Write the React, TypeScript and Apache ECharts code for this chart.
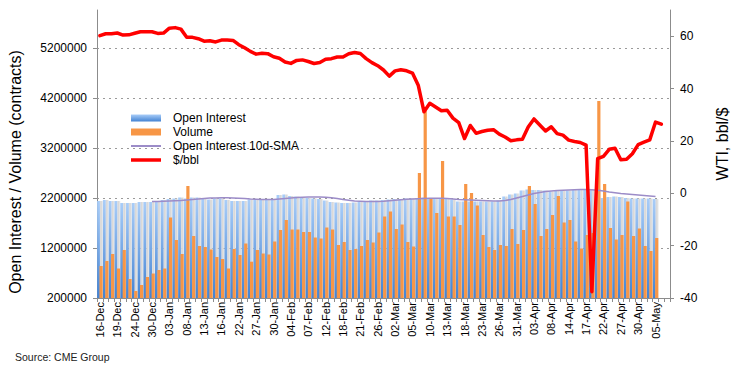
import { useEffect, useRef } from 'react';
import * as echarts from 'echarts';

const CATEGORIES = [
  '16-Dec','17-Dec','18-Dec','19-Dec','20-Dec','23-Dec','24-Dec','26-Dec','27-Dec','30-Dec','31-Dec',
  '02-Jan','03-Jan','06-Jan','07-Jan','08-Jan','09-Jan','10-Jan','13-Jan','14-Jan','15-Jan','16-Jan','17-Jan','21-Jan','22-Jan','23-Jan','24-Jan','27-Jan','28-Jan','29-Jan','30-Jan','31-Jan',
  '03-Feb','04-Feb','05-Feb','06-Feb','07-Feb','10-Feb','11-Feb','12-Feb','13-Feb','14-Feb','18-Feb','19-Feb','20-Feb','21-Feb','24-Feb','25-Feb','26-Feb','27-Feb','28-Feb',
  '02-Mar','03-Mar','04-Mar','05-Mar','06-Mar','09-Mar','10-Mar','11-Mar','12-Mar','13-Mar','16-Mar','17-Mar','18-Mar','19-Mar','20-Mar','23-Mar','24-Mar','25-Mar','26-Mar','27-Mar','30-Mar','31-Mar',
  '01-Apr','02-Apr','03-Apr','06-Apr','07-Apr','08-Apr','09-Apr','13-Apr','14-Apr','15-Apr','16-Apr','17-Apr','20-Apr','21-Apr','22-Apr','23-Apr','24-Apr','27-Apr','28-Apr','29-Apr','30-Apr',
  '01-May','04-May','05-May','06-May','07-May',
];

const OPEN_INTEREST = [
  2140000, 2160000, 2140000, 2140000, 2100000, 2100000, 2100000, 2120000, 2120000, 2120000,
  2140000, 2160000, 2180000, 2190000, 2210000, 2190000, 2210000, 2210000, 2190000, 2170000,
  2190000, 2190000, 2160000, 2140000, 2140000, 2140000, 2170000, 2170000, 2160000, 2160000,
  2170000, 2260000, 2270000, 2240000, 2230000, 2210000, 2200000, 2190000, 2180000, 2150000,
  2120000, 2110000, 2100000, 2100000, 2110000, 2130000, 2140000, 2150000, 2150000, 2160000,
  2170000, 2180000, 2180000, 2190000, 2190000, 2200000, 2210000, 2200000, 2190000, 2190000,
  2190000, 2170000, 2130000, 2130000, 2130000, 2130000, 2130000, 2130000, 2130000, 2150000,
  2230000, 2270000, 2290000, 2350000, 2370000, 2360000, 2360000, 2350000, 2330000, 2340000,
  2340000, 2350000, 2360000, 2360000, 2370000, 2370000, 2380000, 2200000, 2220000, 2230000,
  2220000, 2200000, 2190000, 2190000, 2190000, 2190000, 2180000,
];

const VOLUME = [
  840000, 940000, 1080000, 790000, 1160000, 580000, 340000, 460000, 620000, 690000,
  760000, 790000, 1810000, 1360000, 1080000, 2440000, 1440000, 1240000, 1220000, 1170000,
  1020000, 980000, 790000, 1180000, 1060000, 1290000, 926000, 1160000, 1090000, 1070000,
  1330000, 1560000, 1760000, 1570000, 1570000, 1520000, 1520000, 1410000, 1390000, 1610000,
  1570000, 1260000, 1320000, 1160000, 1180000, 1240000, 1360000, 1310000, 1510000, 1830000,
  1930000, 1580000, 1670000, 1320000, 1230000, 2700000, 3950000, 2200000, 1900000, 2940000,
  1830000, 1830000, 1660000, 2480000, 2300000, 2050000, 1460000, 1220000, 1160000, 1260000,
  1240000, 1580000, 1280000, 1560000, 2440000, 2080000, 1440000, 1580000, 1860000, 2240000,
  1710000, 1760000, 1330000, 1190000, 1460000, 1500000, 4140000, 2480000, 1600000, 1370000,
  1460000, 2130000, 1440000, 1590000, 1240000, 1140000, 1400000,
];

const OI_SMA_10D = [
  null, null, null, null, null, null, null, null, null,
  2130000, 2130000, 2135000, 2140000, 2145000, 2150000, 2160000, 2170000, 2180000, 2190000, 2200000,
  2200000, 2205000, 2205000, 2200000, 2195000, 2190000, 2180000, 2175000, 2170000, 2170000,
  2170000, 2180000, 2190000, 2200000, 2210000, 2215000, 2220000, 2220000, 2220000, 2215000,
  2205000, 2190000, 2170000, 2155000, 2140000, 2135000, 2130000, 2130000, 2130000, 2135000,
  2145000, 2155000, 2165000, 2175000, 2180000, 2185000, 2190000, 2195000, 2195000, 2195000,
  2190000, 2180000, 2170000, 2165000, 2160000, 2155000, 2150000, 2145000, 2140000, 2140000,
  2150000, 2170000, 2200000, 2230000, 2260000, 2290000, 2310000, 2330000, 2340000, 2350000,
  2355000, 2360000, 2365000, 2370000, 2370000, 2365000, 2355000, 2340000, 2320000, 2305000,
  2290000, 2280000, 2270000, 2260000, 2250000, 2240000, 2230000,
];

const WTI_PRICE = [
  60.21, 60.94, 60.93, 61.22, 60.44, 60.52, 61.11, 61.68, 61.72, 61.68,
  61.06, 61.18, 63.05, 63.27, 62.7, 59.61, 59.56, 59.04, 58.08, 58.23,
  57.81, 58.52, 58.54, 58.38, 56.74, 55.59, 54.19, 53.14, 53.48, 53.33,
  52.14, 51.56, 50.11, 49.61, 50.75, 50.95, 50.32, 49.57, 49.94, 51.17,
  51.42, 52.05, 52.05, 53.29, 53.78, 53.38, 51.43, 49.9, 48.73, 47.09,
  44.76, 46.75, 47.18, 46.78, 45.9, 41.28, 31.13, 34.36, 32.98, 31.5,
  31.73, 28.7, 26.95, 20.9, 25.9, 22.9, 23.6, 24.1, 24.3, 22.6,
  21.5, 20.1, 20.4, 20.6, 25.3, 28.4, 26.1, 23.8, 25.4, 22.8,
  22.2, 20.3, 19.8, 19.4, 18.4, -37.63, 13.2, 14.1, 16.8, 17.2,
  12.8, 13.0, 15.1, 18.6, 19.5, 20.4, 27.2, 26.4,
];

const LEFT_GRID_TICKS = [1200000, 2200000, 3200000, 4200000, 5200000];

const FONT = '"Liberation Sans", Arial, Helvetica, sans-serif';
const AXIS_GRAY = '#8c8c8c';

export default function App() {
  const ref = useRef<HTMLDivElement>(null);

  useEffect(() => {
    if (!ref.current) return;
    const chart = echarts.init(ref.current, null, { renderer: 'svg' });

    const oiGradient = new echarts.graphic.LinearGradient(0, 0, 0, 1, [
      { offset: 0, color: '#a9cdf8' },
      { offset: 1, color: '#4383d3' },
    ]);

    chart.setOption({
      animation: false,
      backgroundColor: '#ffffff',
      textStyle: { fontFamily: FONT },
      grid: { left: 97, right: 68, top: 10, bottom: 75, outerBoundsMode: 'none' },
      legend: {
        orient: 'vertical',
        left: 131,
        top: 112,
        padding: 0,
        itemGap: 2,
        itemWidth: 30,
        itemHeight: 7,
        selectedMode: false,
        textStyle: { fontSize: 12, color: '#000', fontFamily: FONT, padding: [0, 0, 0, 7] },
        itemStyle: { borderWidth: 0 },
        data: [
          { name: 'Open Interest', icon: 'rect' },
          { name: 'Volume', icon: 'rect' },
          { name: 'Open Interest 10d-SMA', icon: 'path://M0,0H30V2H0Z' },
          { name: '$/bbl', icon: 'path://M0,0H30V3.5H0Z' },
        ],
      },
      xAxis: {
        type: 'category',
        data: CATEGORIES,
        boundaryGap: true,
        axisLine: { onZero: false, lineStyle: { color: AXIS_GRAY, width: 1 } },
        axisTick: { show: true, interval: 0, length: 4, lineStyle: { color: AXIS_GRAY } },
        axisLabel: { interval: 2, rotate: 90, fontSize: 11, color: '#000', margin: 4, fontFamily: FONT },
        splitLine: { show: false },
      },
      yAxis: [
        {
          type: 'value',
          position: 'left',
          min: 200000,
          max: 5960000,
          interval: 1000000,
          axisLine: { show: true, lineStyle: { color: AXIS_GRAY } },
          axisTick: { show: true, length: 4, lineStyle: { color: AXIS_GRAY } },
          axisLabel: {
            fontSize: 12,
            color: '#000',
            margin: 10,
            showMaxLabel: false,
            fontFamily: FONT,
            formatter: (v: number) => String(v),
          },
          splitLine: { show: false },
        },
        {
          type: 'value',
          position: 'right',
          min: -40,
          max: 70,
          interval: 20,
          axisLine: { show: true, lineStyle: { color: AXIS_GRAY } },
          axisTick: { show: true, length: 4, lineStyle: { color: AXIS_GRAY } },
          axisLabel: { fontSize: 12, color: '#000', margin: 10, showMaxLabel: false, fontFamily: FONT },
          splitLine: { show: false },
        },
      ],
      series: [
        {
          name: 'Open Interest',
          type: 'bar',
          yAxisIndex: 0,
          data: OPEN_INTEREST,
          barWidth: 2.8,
          barGap: '-15%',
          itemStyle: {
            color: oiGradient,
            shadowColor: '#d9d9d9',
            shadowOffsetX: 2.6,
            shadowBlur: 0,
          },
          markLine: {
            z: 1,
            silent: true,
            symbol: 'none',
            label: { show: false },
            lineStyle: { color: '#9a9a9a', width: 1, type: [2, 4] },
            data: LEFT_GRID_TICKS.map((v) => ({ yAxis: v })),
          },
        },
        {
          name: 'Volume',
          type: 'bar',
          yAxisIndex: 0,
          data: VOLUME,
          barWidth: 3.2,
          barGap: '-15%',
          itemStyle: { color: '#f79646' },
        },
        {
          name: 'Open Interest 10d-SMA',
          type: 'line',
          yAxisIndex: 0,
          data: OI_SMA_10D,
          symbol: 'none',
          showSymbol: false,
          color: '#9c8cc8',
          lineStyle: { color: '#9c8cc8', width: 1.6 },
          z: 3,
        },
        {
          name: '$/bbl',
          type: 'line',
          yAxisIndex: 1,
          data: WTI_PRICE,
          symbol: 'none',
          showSymbol: false,
          color: '#ff0000',
          lineStyle: { color: '#ff0000', width: 3.5, join: 'round', cap: 'round' },
          z: 4,
        },
      ],
      graphic: [
        {
          type: 'text',
          x: 15,
          y: 172,
          rotation: Math.PI / 2,
          style: {
            text: 'Open Interest / Volume (contracts)',
            font: `16px ${FONT}`,
            fill: '#000',
            align: 'center',
            verticalAlign: 'middle',
          },
        },
        {
          type: 'text',
          x: 722,
          y: 144,
          rotation: Math.PI / 2,
          style: {
            text: 'WTI, bbl/$',
            font: `16px ${FONT}`,
            fill: '#000',
            align: 'center',
            verticalAlign: 'middle',
          },
        },
        {
          type: 'text',
          x: 15,
          y: 357,
          style: {
            text: 'Source: CME Group',
            font: `10.5px ${FONT}`,
            fill: '#222',
            align: 'left',
            verticalAlign: 'middle',
          },
        },
      ],
    });

    return () => chart.dispose();
  }, []);

  return (
    <div
      ref={ref}
      style={{ position: 'fixed', left: 0, top: 0, width: 738, height: 373, background: '#fff' }}
    />
  );
}
